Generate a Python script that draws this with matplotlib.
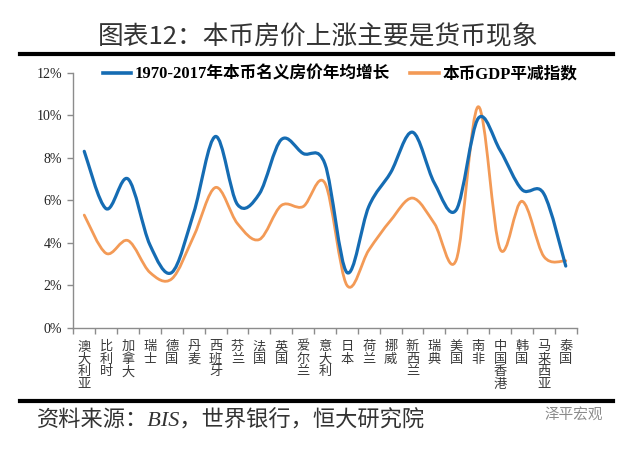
import numpy as np
import matplotlib
matplotlib.use('Agg')
import matplotlib.pyplot as plt
from matplotlib.path import Path
from matplotlib.patches import PathPatch
from matplotlib.lines import Line2D

plt.rcParams['font.family'] = ['Noto Sans CJK SC', 'DejaVu Sans']

# data (%)
countries = ['澳大利亚', '比利时', '加拿大', '瑞士', '德国', '丹麦', '西班牙', '芬兰', '法国', '英国',
             '爱尔兰', '意大利', '日本', '荷兰', '挪威', '新西兰', '瑞典', '美国', '南非', '中国香港',
             '韩国', '马来西亚', '泰国']
house_growth = [8.3, 5.6, 7.0, 3.9, 2.6, 5.4, 9.0, 5.8, 6.3, 8.85, 8.2, 7.7, 2.6, 5.7, 7.3, 9.2,
                6.8, 5.55, 9.85, 8.35, 6.5, 6.3, 2.9]
gdp_deflator = [5.3, 3.5, 4.1, 2.6, 2.3, 4.3, 6.6, 4.9, 4.15, 5.75, 5.7, 6.8, 2.0, 3.65, 5.05, 6.1,
                4.9, 3.2, 10.4, 3.7, 5.95, 3.35, 3.15]
yticks = [0, 2, 4, 6, 8, 10, 12]
label_house = '1970-2017年本币名义房价年均增长'
label_defl = '本币GDP平减指数'
title = '图表12：本币房价上涨主要是货币现象'
source = '资料来源：BIS，世界银行，恒大研究院'

blue = '#156CB3'
orange = '#F39A56'


def smooth_path(x, y):
    # excel-like smoothed line: bezier segments with catmull-rom handles
    pts = np.column_stack([x, y]).astype(float)
    n = len(pts)
    verts = [pts[0]]
    codes = [Path.MOVETO]
    for i in range(n - 1):
        p0 = pts[max(i - 1, 0)]
        p1 = pts[i]
        p2 = pts[i + 1]
        p3 = pts[min(i + 2, n - 1)]
        verts += [p1 + (p2 - p0) / 6, p2 - (p3 - p1) / 6, p2]
        codes += [Path.CURVE4] * 3
    return Path(verts, codes)


fig = plt.figure(figsize=(6.4, 4.53), dpi=100)
W, H = 640, 453
ax = fig.add_axes([73.3 / W, 1 - 327.7 / H, 503.4 / W, 255 / H])

x = np.arange(len(countries))
ax.add_patch(PathPatch(smooth_path(x, gdp_deflator), fill=False, edgecolor=orange, lw=2.0,
                       capstyle='round', joinstyle='round', zorder=2))
ax.add_patch(PathPatch(smooth_path(x, house_growth), fill=False, edgecolor=blue, lw=2.3,
                       capstyle='round', joinstyle='round', zorder=3))

ax.set_xlim(-0.5, len(countries) - 0.5)
ax.set_ylim(0, 12)
ax.set_yticks(yticks)
ax.set_yticklabels(['%d%%' % v for v in yticks], family=['Liberation Serif'], fontsize=10, color='#222222')
ax.set_xticks(x)
ax.set_xticklabels(['\n'.join(c) for c in countries], fontsize=9.5, color='#3a3a3a',
                   linespacing=0.95, va='top')
ax.set_xticks(np.arange(-0.5, len(countries)), minor=True)
ax.tick_params(axis='x', which='major', length=0, pad=9)
ax.tick_params(axis='x', which='minor', length=4, width=1, color='#8c8c8c', direction='out')
ax.tick_params(axis='y', length=4, width=1, color='#8c8c8c', direction='out', pad=4)
for s in ['top', 'right']:
    ax.spines[s].set_visible(False)
for s in ['left', 'bottom']:
    ax.spines[s].set_color('#8c8c8c')
    ax.spines[s].set_linewidth(1)

handles = [Line2D([], [], color=blue, lw=2.6), Line2D([], [], color=orange, lw=2.6)]
ax.legend(handles, [label_house, label_defl], loc='center', bbox_to_anchor=(0.53, 0.993),
          ncol=2, frameon=False, handlelength=1.7, handletextpad=0.25, columnspacing=1.2,
          prop={'family': ['Liberation Serif', 'Noto Sans CJK SC'], 'weight': 'bold', 'size': 12})

# header / footer
fig.text(318 / W, 1 - 37 / H, title, ha='center', va='center', fontsize=18.5, color='#333333',
         fontweight='light')
fig.add_artist(Line2D([20 / W, 613 / W], [1 - 53.5 / H] * 2, color='black', lw=3, transform=fig.transFigure))
fig.add_artist(Line2D([20 / W, 613 / W], [1 - 401 / H] * 2, color='black', lw=3, transform=fig.transFigure))
fig.text(37 / W, 1 - 421 / H, source, ha='left', va='center', fontsize=16, color='#333333',
         family=['Liberation Serif', 'Noto Sans CJK SC'], style='italic', fontweight='light')
fig.text(603 / W, 1 - 415 / H, '泽平宏观', ha='right', va='center', fontsize=10.5, color='#8a8a8a')

fig.savefig('out.png', dpi=100)
